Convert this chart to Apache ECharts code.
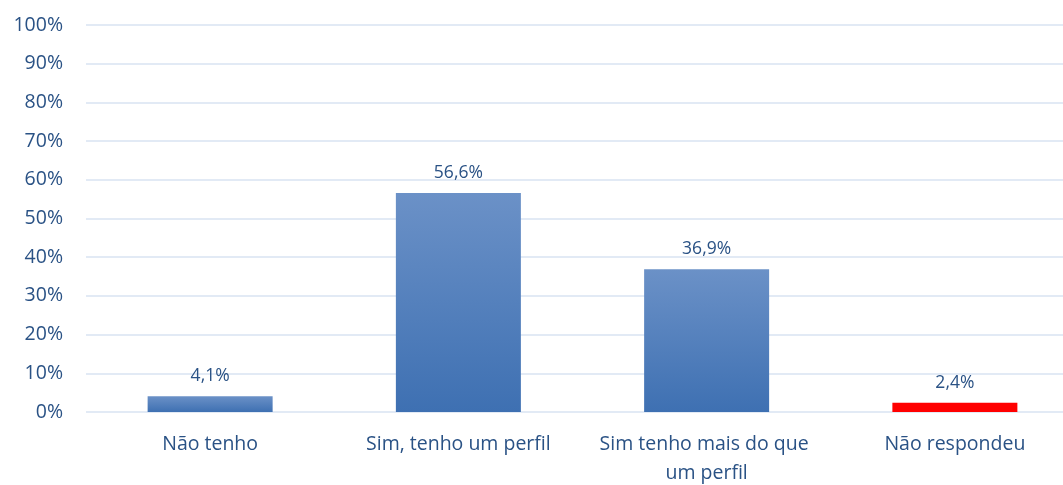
<!DOCTYPE html>
<html>
<head>
<meta charset="utf-8">
<script src="https://cdn.jsdelivr.net/npm/echarts@6/dist/echarts.min.js"></script>
<style>
  html, body { margin: 0; padding: 0; background: #fff; overflow: hidden; }
  #chart { width: 1063px; height: 485px; }
</style>
</head>
<body>
<div id="chart"></div>
<script>
// dados do grafico
var categorias = ['Não tenho', 'Sim, tenho um perfil', 'Sim tenho mais do que um perfil', 'Não respondeu'];
var valores = [4.1, 56.6, 36.9, 2.4];
var destaque = [false, false, false, true]; // barra vermelha

var textColor = '#2a5285';
var fonte = '"Open Sans", "Noto Sans", sans-serif';

var azul = new echarts.graphic.LinearGradient(0, 0, 0, 1, [
  { offset: 0, color: '#6b91c7' },
  { offset: 1, color: '#3e70b2' }
]);

var dados = valores.map(function (v, i) {
  return {
    value: v,
    itemStyle: { color: destaque[i] ? '#ff0000' : azul }
  };
});

var myChart = echarts.init(document.getElementById('chart'));
var option = {
  backgroundColor: '#ffffff',
  animation: false,
  grid: { left: 86, right: -16, top: 25, bottom: 73, outerBoundsMode: 'none' },
  xAxis: {
    type: 'category',
    data: categorias,
    axisLine: { show: false },
    axisTick: { show: false },
    axisLabel: {
      color: textColor,
      fontFamily: fonte,
      fontSize: 19.5,
      margin: 18,
      lineHeight: 29,
      width: 230,
      overflow: 'break',
      interval: 0
    }
  },
  yAxis: {
    type: 'value',
    min: 0,
    max: 100,
    interval: 10,
    axisLine: { show: false },
    axisTick: { show: false },
    splitLine: { lineStyle: { color: '#d9e3f2', width: 1.5 } },
    axisLabel: {
      color: textColor,
      fontFamily: fonte,
      fontSize: 19.5,
      margin: 23,
      formatter: '{value}%'
    }
  },
  series: [{
    type: 'bar',
    data: dados,
    barWidth: 125,
    label: {
      show: true,
      position: 'top',
      distance: 11,
      color: textColor,
      fontFamily: fonte,
      fontSize: 17.5,
      formatter: function (p) {
        return p.value.toFixed(1).replace('.', ',') + '%';
      }
    }
  }]
};
myChart.setOption(option);
</script>
</body>
</html>
